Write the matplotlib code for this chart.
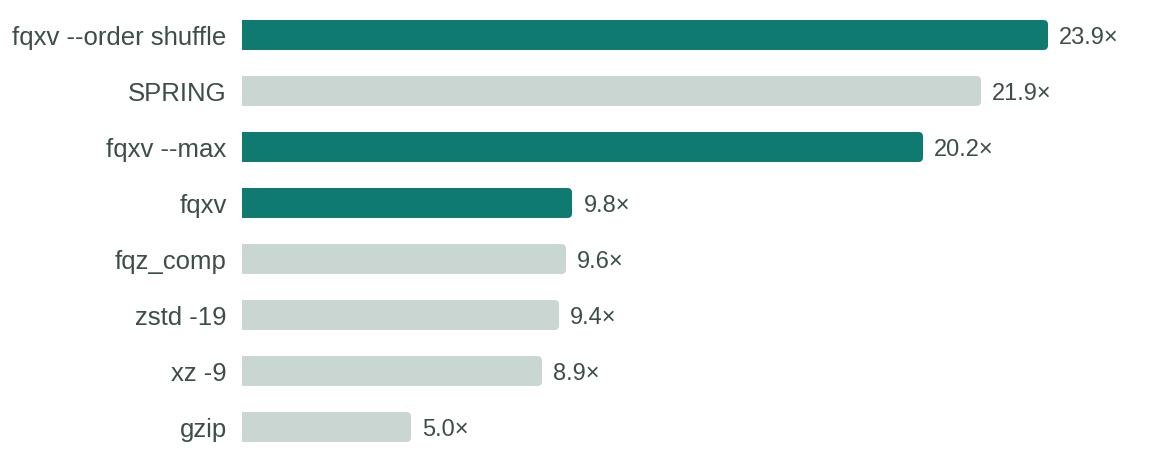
import matplotlib.pyplot as plt

# data
tools = ["fqxv --order shuffle", "SPRING", "fqxv --max", "fqxv",
         "fqz_comp", "zstd -19", "xz -9", "gzip"]
ratios = [23.9, 21.9, 20.2, 9.8, 9.6, 9.4, 8.9, 5.0]
highlight = [True, False, True, True, False, False, False, False]

TEAL = "#0f7b70"
GREY = "#cad6d2"
TEXT = "#3d4d48"

plt.rcParams['font.family'] = ['Liberation Sans', 'DejaVu Sans']

fig = plt.figure(figsize=(11.7, 4.64), dpi=100)
W, H = 1170, 464
left_px, right_px = 242, 1048
top_px, bot_px = 8, 456
ax = fig.add_axes([left_px / W, (H - bot_px) / H,
                   (right_px - left_px) / W, (bot_px - top_px) / H])
ax.set_xlim(0, max(ratios))
ax.set_ylim(len(tools) - 0.5, -0.5)
ax.axis('off')

px_x = max(ratios) / (right_px - left_px)   # data units per pixel in x
px_y = len(tools) / (bot_px - top_px)       # data units per pixel in y
r = 4           # corner radius in px
bar_h = 30 * px_y
lw_pt = 2 * r * 72 / 100

for i, (name, v, hl) in enumerate(zip(tools, ratios, highlight)):
    c = TEAL if hl else GREY
    # rounded bar: shrunk rectangle with thick round-joined edge
    ax.barh(i, v - 2 * r * px_x, left=r * px_x, height=bar_h - 2 * r * px_y,
            color=c, edgecolor=c, linewidth=lw_pt, joinstyle='round')
    # square off left end
    ax.barh(i, v / 2, left=0, height=bar_h, color=c, linewidth=0)
    ax.annotate(f"{v:.1f}\u00d7", (v, i), xytext=(8, -1.5), textcoords='offset points',
                va='center', ha='left', fontsize=17, color=TEXT)
    ax.annotate(name, (0, i), xytext=(-11, -1.5), textcoords='offset points',
                va='center', ha='right', fontsize=18.5, color=TEXT,
                annotation_clip=False)

fig.savefig("out.png", dpi=100)
